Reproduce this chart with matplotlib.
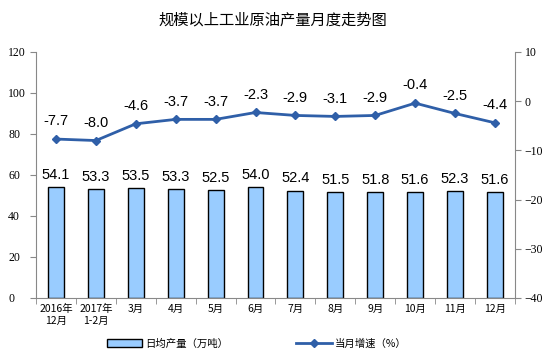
import matplotlib
matplotlib.use("Agg")
import matplotlib.pyplot as plt
from matplotlib.patches import Patch
from matplotlib.lines import Line2D
import numpy as np

categories = ["2016年\n12月", "2017年\n1-2月", "3月", "4月", "5月", "6月",
              "7月", "8月", "9月", "10月", "11月", "12月"]
daily_output = [54.1, 53.3, 53.5, 53.3, 52.5, 54.0, 52.4, 51.5, 51.8, 51.6, 52.3, 51.6]
growth = [-7.7, -8.0, -4.6, -3.7, -3.7, -2.3, -2.9, -3.1, -2.9, -0.4, -2.5, -4.4]

CJK = ["Noto Sans CJK SC", "DejaVu Sans"]
SERIF = "Liberation Serif"
SANS = "Liberation Sans"
BAR_C = "#99CCFF"
LINE_C = "#2F5FA8"

fig = plt.figure(figsize=(5.46, 3.56), dpi=100)
ax = fig.add_axes([0.066, 0.163, 0.877, 0.691])
ax2 = ax.twinx()

x = np.arange(len(categories))
ax.bar(x, daily_output, width=0.4, color=BAR_C, edgecolor="black", linewidth=1.0, zorder=2)
for xi, v in zip(x, daily_output):
    ax.text(xi, v + 2.5, f"{v:.1f}", ha="center", va="bottom", fontsize=10.5, family=SANS)

ax2.plot(x, growth, color=LINE_C, lw=2, marker="D", ms=4.5, zorder=3)
for xi, v in zip(x, growth):
    ax2.text(xi, v + 2.2, f"{v:.1f}", ha="center", va="bottom", fontsize=10.5, family=SANS)

ax.set_xlim(-0.5, len(categories) - 0.5)
ax.set_ylim(0, 120)
ax.set_yticks(range(0, 121, 20))
ax2.set_ylim(-40, 10)
ax2.set_yticks(range(-40, 11, 10))

ax.set_xticks(x)
ax.set_xticklabels(categories, family=CJK, fontsize=7.5, linespacing=1.3)
ax.set_xticks(np.arange(-0.5, len(categories), 1), minor=True)
ax.tick_params(axis="x", which="major", length=0, pad=4)
ax.tick_params(axis="x", which="minor", length=4, color="#888888", direction="out")

for a in (ax, ax2):
    for s in a.spines.values():
        s.set_visible(False)
ax.spines["left"].set_visible(True)
ax.spines["bottom"].set_visible(True)
ax2.spines["right"].set_visible(True)
ax.spines["left"].set_color("#888888")
ax.spines["bottom"].set_color("#888888")
ax2.spines["right"].set_color("#888888")

ax.tick_params(axis="y", length=4, color="#888888", labelsize=8.5, pad=16)
ax2.tick_params(axis="y", length=4, color="#888888", labelsize=8.5, pad=3)
for lab in ax.get_yticklabels() + ax2.get_yticklabels():
    lab.set_family(SERIF)
for lab in ax.get_yticklabels():
    lab.set_horizontalalignment("left")

fig.text(0.5, 0.944, "规模以上工业原油产量月度走势图", ha="center", va="center",
         fontsize=11, family=CJK)

handles = [Patch(facecolor=BAR_C, edgecolor="black", linewidth=1.0),
           Line2D([0], [0], color=LINE_C, lw=2, marker="D", ms=4)]
fig.legend(handles, ["日均产量（万吨）", "当月增速（%）"], loc="center",
           bbox_to_anchor=(0.47, 0.035), ncol=2, frameon=False,
           prop={"family": CJK, "size": 7.5}, columnspacing=6.5,
           handlelength=3.4, handleheight=0.7, handletextpad=0.3)

fig.savefig("out.png", dpi=100)
